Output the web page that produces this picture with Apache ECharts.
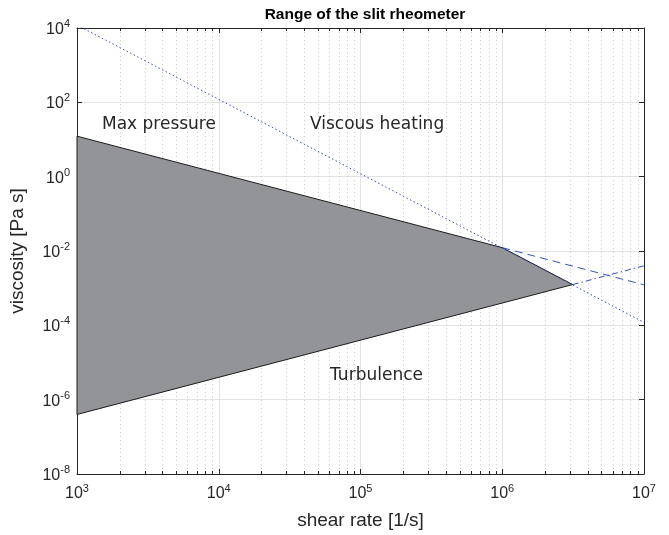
<!DOCTYPE html>
<html>
<head>
<meta charset="utf-8">
<script src="https://cdn.jsdelivr.net/npm/echarts@6/dist/echarts.min.js"></script>
<style>html,body{margin:0;padding:0;background:#fff}#main{width:669px;height:535px}</style>
</head>
<body>
<div id="main"></div>
<script>
// grey operating window (corners, shear rate / viscosity)
var regionRate = [1e3, 1e6, 3.14e6, 1e3];
var regionVisc = [12.3, 1.23e-2, 1.25e-3, 4e-7];
// viscous heating limit (dotted)
var heatRate = [1e3, 1e7];
var heatVisc = [1.2e4, 1.2e-4];
// max pressure limit past the corner (dashed)
var pressRate = [1e6, 1e7];
var pressVisc = [1.23e-2, 1.23e-3];
// turbulence limit past the corner (dash-dot)
var turbRate = [3.14e6, 1e7];
var turbVisc = [1.25e-3, 4e-3];
// annotations
var noteText = ['Max pressure', 'Viscous heating', 'Turbulence'];
var noteRate = [1.5e3, 4.4e4, 6.1e4];
var noteVisc = [25, 25, 4.4e-6];
// decade exponents for ticks
var xDecades = [3, 4, 5, 6, 7];
var yDecades = [-8, -6, -4, -2, 0, 2, 4];
var minorMult = [2, 3, 4, 5, 6, 7, 8, 9];

var lg = Math.log10;
function pairs(xs, ys){
    var out = [];
    for (var i = 0; i < xs.length; i++) out.push([lg(xs[i]), lg(ys[i])]);
    return out;
}
var minorX = [];
xDecades.slice(0, -1).forEach(function(d){
    minorMult.forEach(function(k){ minorX.push([lg(k) + d]); });
});

var txt = '#262626';
var blue = '#3452b4';
function expLabel(v){ return '{b|10}{s|' + v + '}'; }
var rich = {
    b: {fontFamily: 'Liberation Sans', fontSize: 16, color: txt, verticalAlign: 'bottom'},
    s: {fontFamily: 'Liberation Sans', fontSize: 11, color: txt, verticalAlign: 'bottom', padding: [0, 0, 8, 0]}
};
var frame = {show: true, onZero: false, lineStyle: {color: txt, width: 1}};
var tick = {show: true, inside: true, length: 5, lineStyle: {color: txt}};

var chart = echarts.init(document.getElementById('main'));
chart.setOption({
    animation: false,
    title: {
        text: 'Range of the slit rheometer', left: 360, top: 2, textAlign: 'center',
        textStyle: {fontFamily: 'Liberation Sans', fontSize: 15.5, fontWeight: 'bold', color: '#000'}
    },
    grid: {left: 77, right: 25, top: 28, bottom: 61},
    xAxis: [{
        type: 'value', min: 3, max: 7, interval: 1, position: 'bottom',
        name: 'shear rate [1/s]', nameLocation: 'middle', nameGap: 37,
        nameTextStyle: {fontFamily: 'Liberation Sans', fontSize: 19, color: txt},
        axisLine: frame, axisTick: tick,
        axisLabel: {formatter: expLabel, rich: rich, margin: 9},
        splitLine: {show: true, lineStyle: {color: '#e3e3e3', width: 1}}
    }, {
        type: 'value', min: 3, max: 7, interval: 1, position: 'top',
        axisLine: frame, axisTick: tick,
        axisLabel: {show: false}, splitLine: {show: false}
    }],
    yAxis: [{
        type: 'value', min: -8, max: 4, interval: 2, position: 'left',
        name: 'viscosity [Pa s]', nameLocation: 'middle', nameGap: 50,
        nameTextStyle: {fontFamily: 'Liberation Sans', fontSize: 19, color: txt},
        axisLine: frame, axisTick: tick,
        axisLabel: {formatter: expLabel, rich: rich, margin: 7},
        splitLine: {show: true, lineStyle: {color: '#e3e3e3', width: 1}}
    }, {
        type: 'value', min: -8, max: 4, interval: 2, position: 'right',
        axisLine: frame, axisTick: tick,
        axisLabel: {show: false}, splitLine: {show: false}
    }],
    series: [{
        // minor grid + minor ticks on log x axis
        type: 'custom', z: 1, silent: true,
        data: minorX,
        renderItem: function(params, api){
            var cs = params.coordSys;
            var x = Math.round(api.coord([api.value(0), 0])[0]) + 0.5;
            return {type: 'group', children: [
                {type: 'line', shape: {x1: x, y1: cs.y, x2: x, y2: cs.y + cs.height},
                 style: {stroke: '#cccccc', lineWidth: 1, lineDash: [1, 3]}},
                {type: 'line', shape: {x1: x, y1: cs.y + cs.height - 3, x2: x, y2: cs.y + cs.height},
                 style: {stroke: txt, lineWidth: 1}},
                {type: 'line', shape: {x1: x, y1: cs.y, x2: x, y2: cs.y + 3},
                 style: {stroke: txt, lineWidth: 1}}
            ]};
        }
    }, {
        // grey window
        type: 'custom', z: 2, silent: true,
        data: pairs(regionRate, regionVisc),
        renderItem: function(params, api){
            if (params.dataIndex !== 0) return;
            var pts = pairs(regionRate, regionVisc).map(function(p){ return api.coord(p); });
            return {type: 'polygon', shape: {points: pts},
                style: {fill: '#939498', stroke: '#1a1a1a', lineWidth: 1}};
        }
    }, {
        type: 'line', z: 3, data: pairs(heatRate, heatVisc), showSymbol: false, clip: true,
        lineStyle: {color: blue, width: 1, type: [1.5, 2.5]}
    }, {
        type: 'line', z: 3, data: pairs(pressRate, pressVisc), showSymbol: false,
        lineStyle: {color: blue, width: 1, type: [8, 5]}
    }, {
        type: 'line', z: 3, data: pairs(turbRate, turbVisc), showSymbol: false,
        lineStyle: {color: blue, width: 1, type: [6, 3, 1.5, 3]}
    }, {
        type: 'scatter', z: 4, symbolSize: 0, silent: true,
        itemStyle: {opacity: 1},
        data: pairs(noteRate, noteVisc).map(function(p, i){ return {value: p, name: noteText[i]}; }),
        label: {show: true, position: 'right', distance: 0, formatter: '{b}', opacity: 1,
            fontFamily: 'DejaVu Sans', fontSize: 17, color: txt}
    }]
});
</script>
</body>
</html>
